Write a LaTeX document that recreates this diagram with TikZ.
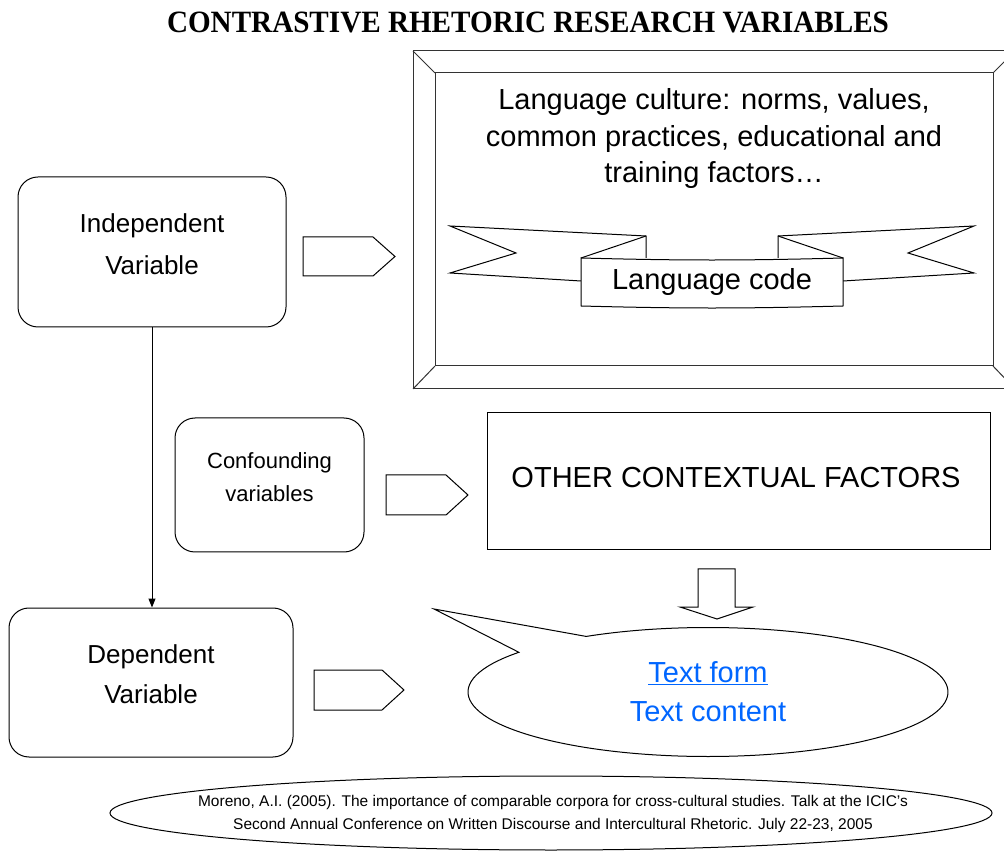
\documentclass[tikz,border=0pt]{standalone}
\usepackage{fontspec}
\setmainfont{Liberation Sans}
\newfontfamily\titlefont{Liberation Serif}
\usetikzlibrary{arrows.meta,calc,shapes.geometric}
\definecolor{linkblue}{RGB}{0,102,255}

\tikzset{
  varbox/.style={draw, line width=1pt, rounded corners=20pt, inner sep=0pt},
  vartext/.style={align=center, inner sep=0pt},
  frameline/.style={draw, line width=1pt, black!80},
  ribbon/.style={draw, line width=1pt, fill=white, line join=miter},
  blockarrow/.style={draw, line width=1pt, fill=white, line join=miter},
}

\begin{document}
\begin{tikzpicture}[x=1pt, y=1pt]
  \useasboundingbox (0,0) rectangle (1004,863);

  \node[inner sep=0pt, font=\titlefont\bfseries\fontsize{31}{31}\selectfont] (title) at (528,841)
    {\scalebox{0.94}[1]{CONTRASTIVE RHETORIC RESEARCH VARIABLES}};

  % picture frame round the language culture
  \draw[frameline] (413,474) rectangle (1015,812);
  \draw[frameline] (435,497) rectangle (993,790);
  \draw[frameline] (413,812) -- (435,790) (1015,812) -- (993,790)
                   (413,474) -- (435,497) (1015,474) -- (993,497);
  \node[vartext, font=\fontsize{29}{36.5}\selectfont] (culture) at (714,724)
    {Language culture: norms, values,\\ common practices, educational and\\ training factors\dots};

  % banner
  \draw[ribbon] (581,582) -- (450,590) -- (516,610) -- (450,637) -- (646,627) -- (646,605);
  \draw[ribbon] (646,627) -- (581,605);
  \draw[ribbon] (843,582) -- (974,590) -- (908,610) -- (974,637) -- (778,627) -- (778,605);
  \draw[ribbon] (778,627) -- (843,605);
  \draw[ribbon] (581,605) to[bend right=1.5] (843,605) -- (843,557) to[bend left=1.5] (581,557) -- cycle;
  \node[vartext, font=\fontsize{29}{29}\selectfont] (code) at (712,581) {Language code};

  % variables
  \node[varbox, minimum width=268pt, minimum height=150pt] (indep) at (152,611) {};
  \node[vartext, font=\fontsize{26}{42}\selectfont] (indepText) at ([yshift=8pt]indep.center)
    {Independent\\Variable};

  \node[varbox, minimum width=189pt, minimum height=134pt] (conf) at (269.5,378) {};
  \node[vartext, font=\fontsize{22}{33}\selectfont] (confText) at ([yshift=7.5pt]conf.center)
    {Confounding\\variables};

  \node[varbox, minimum width=284pt, minimum height=149pt] (dep) at (151,180.5) {};
  \node[vartext, font=\fontsize{26}{40}\selectfont] (depText) at ([yshift=8pt]dep.center)
    {Dependent\\Variable};

  \node[draw, line width=1pt, minimum width=503pt, minimum height=137pt] (other) at (738.5,381.5) {};
  \node[vartext, font=\fontsize{29}{29}\selectfont] (otherText) at (736,385)
    {OTHER CONTEXTUAL FACTORS};

  \draw[line width=1pt, -{Triangle[length=9pt,width=7pt]}] (indep.south) -- (indep.south |- dep.north);

  % block arrows
  \draw[blockarrow] (303,626) -- (373,626) -- (395,606.5) -- (373,587) -- (303,587) -- cycle;
  \draw[blockarrow] (386,388) -- (446,388) -- (468,368) -- (446,348) -- (386,348) -- cycle;
  \draw[blockarrow] (314,193) -- (382,193) -- (404,173) -- (382,153) -- (314,153) -- cycle;
  \draw[blockarrow] (698,294) -- (735,294) -- (735,256) -- (753,256) -- (717,244)
                    -- (680,256) -- (698,256) -- cycle;

  % speech bubble
  \coordinate (callc) at (708,171);
  \coordinate (calltip) at (434,254);
  \draw[line width=1pt, fill=white] ($(callc)+(120.5:240 and 64.5)$) -- (calltip)
    -- ($(callc)+(142:240 and 64.5)$)
    arc[start angle=142, end angle=480.5, x radius=240, y radius=64.5] -- cycle;
  \node[vartext, text=linkblue, font=\fontsize{29}{39}\selectfont] (form) at (708,171)
    {\underline{Text form}\\Text content};

  % reference
  \node[ellipse, draw, line width=1pt, minimum width=882pt, minimum height=74pt] (cite) at (551,50) {};
  \node[vartext, font=\fontsize{15.5}{23}\selectfont] (citeText) at (553,49)
    {Moreno, A.I. (2005). The importance of comparable corpora for cross-cultural studies. Talk at the ICIC's\\
     Second Annual Conference on Written Discourse and Intercultural Rhetoric. July 22-23, 2005};
\end{tikzpicture}
\end{document}
